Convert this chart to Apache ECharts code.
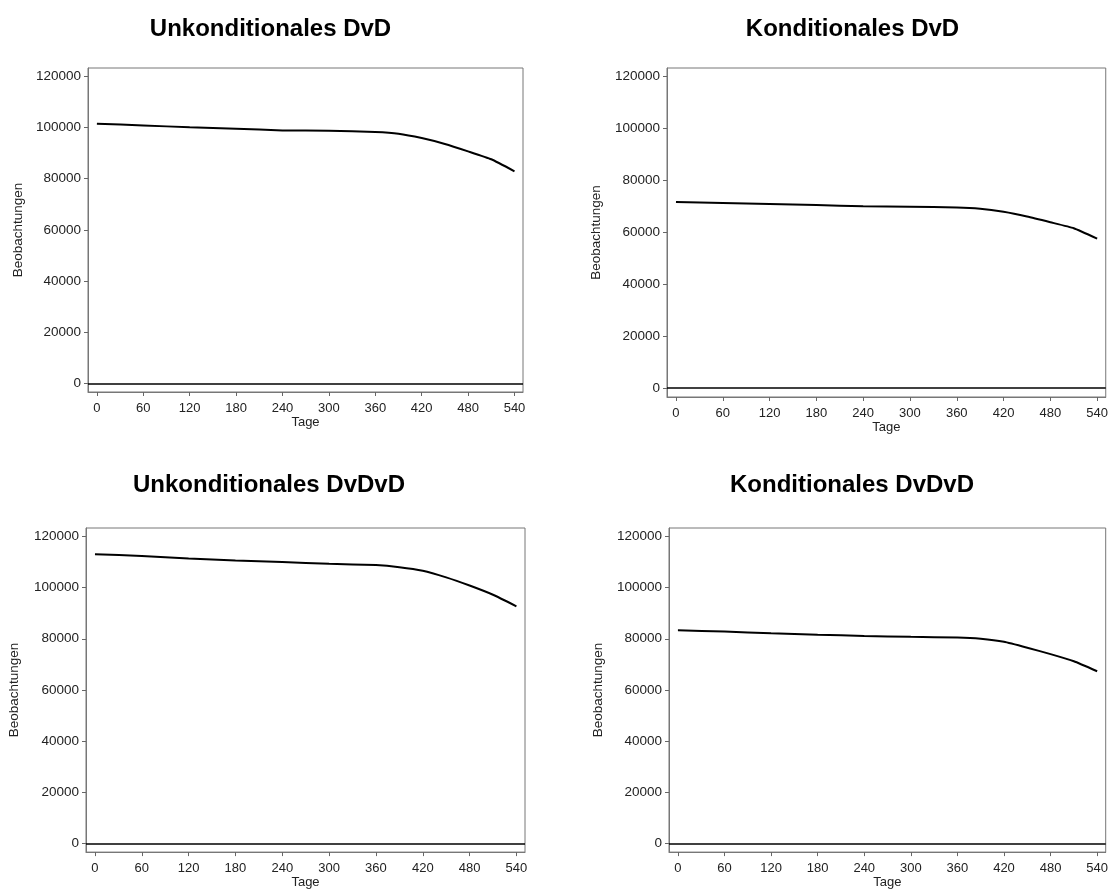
<!DOCTYPE html>
<html>
<head>
<meta charset="utf-8">
<script src="https://cdn.jsdelivr.net/npm/echarts@6/dist/echarts.min.js"></script>
<style>
  html, body { margin: 0; padding: 0; background: #fff; }
  #chart { width: 1111px; height: 890px; }
</style>
</head>
<body>
<div id="chart"></div>
<script>
// ---- data ----
const days = [0, 60, 120, 180, 240, 300, 360, 390, 420, 450, 480, 510, 540];
const uncondDvD   = [101500, 100850, 100100, 99550, 98900, 98750, 98250, 97600, 95900, 93600, 90700, 87600, 82900];
const condDvD     = [71700, 71300, 70900, 70500, 70100, 69850, 69600, 69100, 67900, 66100, 63900, 61600, 57600];
const uncondDvDvD = [113000, 112400, 111400, 110600, 110000, 109300, 108800, 108000, 106600, 104000, 100800, 97200, 92700];
const condDvDvD   = [83300, 82800, 82150, 81600, 81100, 80750, 80500, 80000, 78800, 76500, 74000, 71200, 67300];
const panelTitles = ['Unkonditionales DvD', 'Konditionales DvD', 'Unkonditionales DvDvD', 'Konditionales DvDvD'];
const xTicks = [0, 60, 120, 180, 240, 300, 360, 420, 480, 540];
const yTicks = [0, 20000, 40000, 60000, 80000, 100000, 120000];
const xName = 'Tage';
const yName = 'Beobachtungen';

// ---- layout ----
const FONT = '"Liberation Sans", Arial, sans-serif';
const panels = [
  { values: uncondDvD,   grid: { left: 88,  top: 68,  width: 435, height: 324 }, title: [265.5, 12], nameGap: 63 },
  { values: condDvD,     grid: { left: 667, top: 68,  width: 440, height: 329 }, title: [847.5, 12], nameGap: 64 },
  { values: uncondDvDvD, grid: { left: 86,  top: 528, width: 439, height: 328 }, title: [264, 468],  nameGap: 65 },
  { values: condDvDvD,   grid: { left: 669, top: 528, width: 439, height: 328 }, title: [847, 468],  nameGap: 64 }
];

const option = {
  animation: false,
  backgroundColor: '#ffffff',
  textStyle: { fontFamily: FONT },
  title: [], grid: [], xAxis: [], yAxis: [], series: []
};

const plain = v => String(Math.round(v));

panels.forEach((p, i) => {
  option.title.push({
    text: panelTitles[i], left: p.title[0], top: p.title[1], textAlign: 'center',
    textStyle: { fontFamily: FONT, fontWeight: 'bold', fontSize: 24, color: '#000' }
  });
  option.grid.push(Object.assign({ show: true, borderColor: '#777', borderWidth: 1, backgroundColor: 'transparent' }, p.grid));
  option.xAxis.push({
    type: 'value', gridIndex: i, min: -11.5, max: 551,
    name: xName, nameLocation: 'middle', nameGap: 21,
    nameTextStyle: { fontFamily: FONT, fontSize: 13, color: '#222' },
    axisLine: { show: true, onZero: false, lineStyle: { color: '#777', width: 1 } },
    axisTick: { show: true, length: 4, lineStyle: { color: '#666' }, customValues: xTicks },
    axisLabel: { margin: 10, fontFamily: FONT, fontSize: 13, color: '#222', customValues: xTicks, formatter: plain },
    splitLine: { show: false }
  });
  option.yAxis.push({
    type: 'value', gridIndex: i, min: -3400, max: 123300,
    name: yName, nameLocation: 'middle', nameGap: p.nameGap, nameRotate: 90,
    nameTextStyle: { fontFamily: FONT, fontSize: 13.5, color: '#222' },
    axisLine: { show: true, onZero: false, lineStyle: { color: '#777', width: 1 } },
    axisTick: { show: true, length: 4, lineStyle: { color: '#666' }, customValues: yTicks },
    axisLabel: { margin: 7, fontFamily: FONT, fontSize: 13.5, color: '#222', customValues: yTicks, formatter: plain },
    splitLine: { show: false }
  });
  option.series.push({
    type: 'line', xAxisIndex: i, yAxisIndex: i,
    data: days.map((d, k) => [d, p.values[k]]),
    showSymbol: false, smooth: 0.15,
    lineStyle: { color: '#000', width: 2 },
    markLine: {
      silent: true, symbol: ['none', 'none'], label: { show: false },
      lineStyle: { color: '#000', width: 1.5, type: 'solid' },
      data: [{ yAxis: 0 }]
    }
  });
});

const chart = echarts.init(document.getElementById('chart'), null, { renderer: 'canvas' });
chart.setOption(option);
</script>
</body>
</html>
